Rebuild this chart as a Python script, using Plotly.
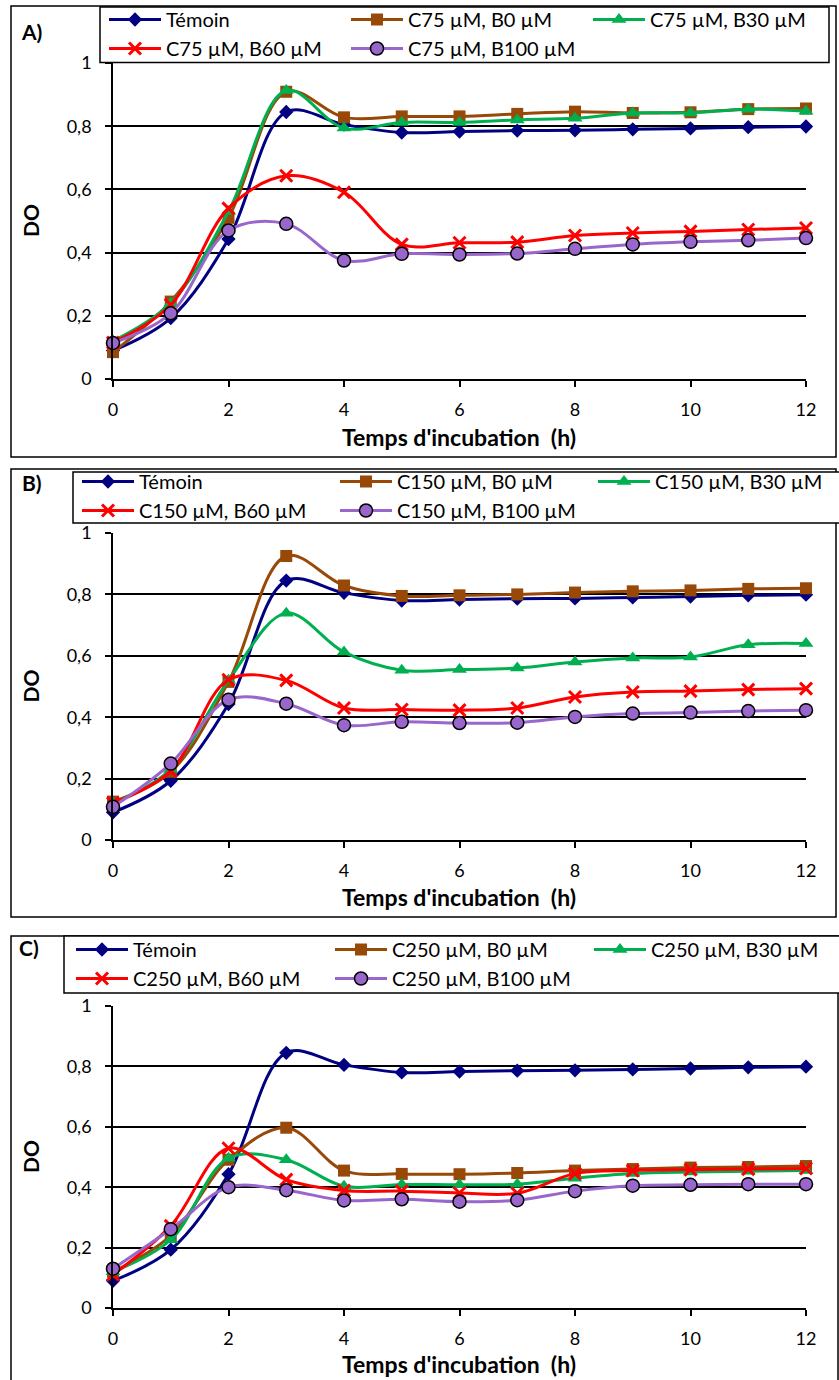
import plotly.graph_objects as go

W, H = 839, 1380

hours = list(range(13))
temoin = [0.09, 0.193, 0.443, 0.845, 0.805, 0.78, 0.783, 0.786, 0.787, 0.79, 0.793, 0.797, 0.799]

a_b0 = [0.085, 0.245, 0.51, 0.909, 0.828, 0.831, 0.831, 0.839, 0.846, 0.842, 0.844, 0.854, 0.856]
a_b30 = [0.12, 0.24, 0.53, 0.913, 0.794, 0.812, 0.812, 0.82, 0.825, 0.842, 0.842, 0.854, 0.847]
a_b60 = [0.115, 0.235, 0.54, 0.643, 0.591, 0.426, 0.431, 0.433, 0.454, 0.462, 0.467, 0.473, 0.478]
a_b100 = [0.114, 0.208, 0.47, 0.491, 0.375, 0.396, 0.394, 0.397, 0.412, 0.426, 0.434, 0.439, 0.446]

b_b0 = [0.125, 0.222, 0.515, 0.925, 0.829, 0.795, 0.797, 0.80, 0.806, 0.81, 0.813, 0.818, 0.82]
b_b30 = [0.12, 0.23, 0.52, 0.739, 0.612, 0.553, 0.555, 0.56, 0.58, 0.593, 0.596, 0.636, 0.64]
b_b60 = [0.12, 0.225, 0.522, 0.52, 0.43, 0.425, 0.423, 0.43, 0.466, 0.482, 0.485, 0.49, 0.493]
b_b100 = [0.108, 0.249, 0.457, 0.444, 0.374, 0.385, 0.381, 0.382, 0.401, 0.412, 0.415, 0.42, 0.423]

c_b0 = [0.12, 0.24, 0.491, 0.597, 0.455, 0.444, 0.443, 0.447, 0.455, 0.46, 0.465, 0.467, 0.47]
c_b30 = [0.12, 0.226, 0.496, 0.491, 0.403, 0.409, 0.408, 0.41, 0.43, 0.445, 0.45, 0.453, 0.455]
c_b60 = [0.11, 0.272, 0.529, 0.425, 0.389, 0.387, 0.381, 0.38, 0.445, 0.455, 0.458, 0.46, 0.462]
c_b100 = [0.13, 0.261, 0.40, 0.39, 0.356, 0.36, 0.352, 0.357, 0.387, 0.405, 0.408, 0.41, 0.41]

panel_letters = ["A)", "B)", "C)"]
concentrations = ["C75", "C150", "C250"]
b_levels = ["B0", "B30", "B60", "B100"]
x_title = "Temps d'incubation  (h)"
y_title = "DO"
panel_data = [
    [a_b0, a_b30, a_b60, a_b100],
    [b_b0, b_b30, b_b60, b_b100],
    [c_b0, c_b30, c_b60, c_b100],
]

FONT = "Lato"
LEGFONT = 20

def px(x):
    return x / W

def py(y):
    return 1 - y / H

# panel geometry in pixels: (y at value 0, y at value 1)
panel_y = [(379, 63), (840, 533), (1308, 1006)]
x0_px, x12_px = 113, 806
borders = [(11, 6, 836, 457), (11, 469, 836, 917), (11, 936, 838, 1384)]
legend_boxes = [(100, 7, 829, 62.5), (73, 472, 845, 523), (64, 936, 845, 993)]
legend_xy = [(104, 0), (77, 462), (71, 930)]
entry_w = [175, 191, 192]
label_xy = [(31, 31), (32, 483), (29, 947)]
xtitle_y = [437, 897, 1364]
ytitle_x = 30

styles = [
    dict(color="#984807", symbol="square", size=12, line_color="#984807", line_width=0),
    dict(color="#00B050", symbol="triangle-up", size=13, line_color="#00B050", line_width=0),
    dict(color="#FF0000", symbol="x-thin", size=12, line_color="#FF0000", line_width=3),
    dict(color="#9966CC", symbol="circle", size=13, line_color="#000000", line_width=1.5),
]
line_colors = ["#984807", "#00B050", "#FF0000", "#9966CC"]

fig = go.Figure()

for p in range(3):
    sfx = "" if p == 0 else str(p + 1)
    leg = "legend" if p == 0 else "legend" + str(p + 1)
    fig.add_trace(go.Scatter(
        x=hours, y=temoin, name="Témoin", mode="lines+markers",
        line=dict(color="#000080", width=3, shape="spline", smoothing=1),
        marker=dict(color="#000080", symbol="diamond", size=11),
        xaxis="x" + sfx, yaxis="y" + sfx, legend=leg, cliponaxis=False,
    ))
    for k in range(4):
        st = styles[k]
        fig.add_trace(go.Scatter(
            x=hours, y=panel_data[p][k],
            name=f"{concentrations[p]} µM, {b_levels[k]} µM", mode="lines+markers",
            line=dict(color=line_colors[k], width=3, shape="spline", smoothing=1),
            marker=dict(color=st["color"], symbol=st["symbol"], size=st["size"],
                        line=dict(color=st["line_color"], width=st["line_width"])),
            xaxis="x" + sfx, yaxis="y" + sfx, legend=leg, cliponaxis=False,
        ))

layout = dict(
    width=W, height=H,
    margin=dict(l=0, r=0, t=0, b=0, autoexpand=False),
    paper_bgcolor="white", plot_bgcolor="white",
    separators=", ",
    font=dict(family=FONT, size=18, color="black"),
    shapes=[], annotations=[],
)

for p in range(3):
    sfx = "" if p == 0 else str(p + 1)
    y0, y1 = panel_y[p]
    layout["xaxis" + sfx] = dict(
        domain=[px(x0_px), px(x12_px)], anchor="y" + sfx, range=[0, 12], automargin=False,
        tickmode="linear", tick0=0, dtick=2, ticks="outside", ticklen=6, tickwidth=1.5,
        tickcolor="black", showline=True, linecolor="black", linewidth=1.5,
        showgrid=False, zeroline=False, tickfont=dict(size=18, family=FONT),
        ticklabelstandoff=8,
    )
    layout["yaxis" + sfx] = dict(
        domain=[py(y0), py(y1)], anchor="x" + sfx, range=[0, 1], automargin=False,
        tickmode="linear", tick0=0, dtick=0.2, ticks="outside", ticklen=6, tickwidth=1.5,
        tickcolor="black", showline=True, linecolor="black", linewidth=1.5,
        showgrid=True, gridcolor="black", gridwidth=1.5, zeroline=False,
        tickfont=dict(size=18, family=FONT), ticklabelstandoff=10,
    )
    leg = "legend" if p == 0 else "legend" + str(p + 1)
    lx, ly = legend_xy[p]
    layout[leg] = dict(
        orientation="h", xref="container", yref="container",
        x=px(lx), y=py(ly), xanchor="left", yanchor="top",
        bgcolor="rgba(0,0,0,0)", borderwidth=0, entrywidth=entry_w[p], entrywidthmode="pixels",
        itemwidth=52, font=dict(size=LEGFONT, family=FONT), traceorder="normal",
    )
    bx0, by0, bx1, by1 = borders[p]
    layout["shapes"].append(dict(type="rect", xref="paper", yref="paper",
                                 x0=px(bx0), x1=px(bx1), y0=py(by0), y1=py(by1),
                                 line=dict(color="black", width=1.5), fillcolor="rgba(0,0,0,0)", layer="below"))
    lx0, ly0, lx1, ly1 = legend_boxes[p]
    layout["shapes"].append(dict(type="rect", xref="paper", yref="paper",
                                 x0=px(lx0), x1=px(lx1), y0=py(ly0), y1=py(ly1),
                                 line=dict(color="black", width=1.5), fillcolor="white", layer="above"))
    ax_, ay_ = label_xy[p]
    layout["annotations"].append(dict(text=f"<b>{panel_letters[p]}</b>", xref="paper", yref="paper",
                                      x=px(ax_), y=py(ay_), xanchor="center", yanchor="middle",
                                      showarrow=False, font=dict(size=21, family=FONT)))
    layout["annotations"].append(dict(text=f"<b>{x_title}</b>", xref="paper", yref="paper",
                                      x=px((x0_px + x12_px) / 2), y=py(xtitle_y[p]),
                                      xanchor="center", yanchor="middle",
                                      showarrow=False, font=dict(size=23, family=FONT)))
    layout["annotations"].append(dict(text=f"<b>{y_title}</b>", xref="paper", yref="paper",
                                      x=px(ytitle_x), y=py((y0 + y1) / 2), textangle=-90,
                                      xanchor="center", yanchor="middle",
                                      showarrow=False, font=dict(size=21, family=FONT)))

fig.update_layout(**layout)
fig.write_html("out.html", config={"displayModeBar": False},
               post_script="document.body.style.margin='0';document.body.style.overflow='hidden';")
